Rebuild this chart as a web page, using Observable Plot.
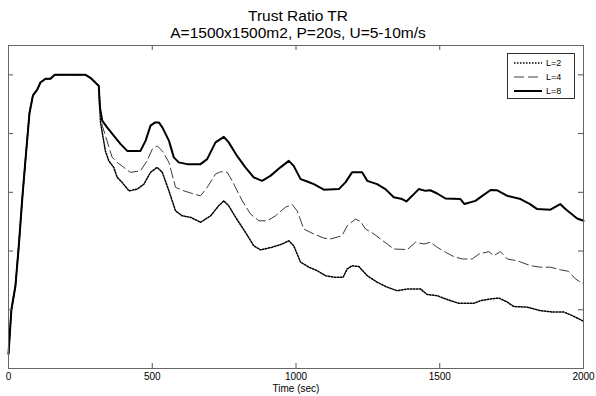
<!DOCTYPE html>
<html>
<head>
<meta charset="utf-8">
<script src="https://cdn.jsdelivr.net/npm/d3@7"></script>
<script src="https://cdn.jsdelivr.net/npm/@observablehq/plot@0.6"></script>
<style>
  html, body { margin: 0; padding: 0; background: #fff; }
  #wrap { position: relative; width: 596px; height: 396px; font-family: Arial, "Liberation Sans", sans-serif; }
  #title { height: 40px; text-align: center; color: #000; font-size: 15.5px; line-height: 17px; padding-top: 7px; box-sizing: border-box; white-space: nowrap; }
  #chart svg { background: transparent !important; display: block; }
  #legend { position: absolute; left: 507px; top: 53px; width: 68px; height: 46px; box-sizing: border-box;
            border: 1px solid #333; background: #fff; font-size: 9px; padding: 2px 0 0 6px; }
  .row { display: flex; align-items: center; height: 14px; }
  .row svg { margin-right: 4px; }
</style>
</head>
<body>
<div id="wrap">
  <div id="title"><div>Trust Ratio TR</div><div>A=1500x1500m2, P=20s, U=5-10m/s</div></div>
  <div id="chart"></div>
  <div id="legend"></div>
</div>
<script>
// Shared start (all three series coincide)
const commonT = [0, 10, 24, 36, 48, 59, 73, 85, 100, 111, 129, 146, 161, 268, 285, 300, 314];
const commonV = [0.05, 0.20, 0.28, 0.42, 0.58, 0.71, 0.87, 0.93, 0.95, 0.974, 0.987, 0.987, 1.0, 1.0, 0.99, 0.976, 0.962];

// L=2
const l2T = [320, 329, 337, 349, 366, 378, 395, 419, 448, 471, 494, 517, 535, 558, 581, 604, 633, 668, 703, 731, 749, 766, 790, 824, 853, 877, 917, 952, 975, 992, 1016, 1045, 1074, 1103, 1132, 1164, 1178, 1195, 1219, 1248, 1282, 1317, 1352, 1387, 1433, 1456, 1491, 1520, 1566, 1619, 1642, 1677, 1706, 1735, 1758, 1804, 1850, 1896, 1932, 1961, 1984, 2000];
const l2V = [0.838, 0.787, 0.741, 0.707, 0.685, 0.651, 0.634, 0.605, 0.611, 0.628, 0.668, 0.685, 0.668, 0.605, 0.537, 0.520, 0.515, 0.498, 0.520, 0.554, 0.571, 0.554, 0.515, 0.464, 0.418, 0.404, 0.413, 0.424, 0.435, 0.418, 0.362, 0.345, 0.333, 0.316, 0.311, 0.311, 0.339, 0.350, 0.347, 0.316, 0.294, 0.277, 0.265, 0.271, 0.271, 0.252, 0.248, 0.237, 0.222, 0.222, 0.231, 0.237, 0.240, 0.226, 0.211, 0.209, 0.197, 0.192, 0.192, 0.180, 0.169, 0.161];

// L=4
const l4T = [320, 326, 335, 349, 360, 378, 401, 424, 459, 482, 500, 517, 535, 558, 581, 610, 645, 668, 691, 720, 737, 761, 778, 813, 842, 871, 900, 929, 963, 987, 1004, 1027, 1062, 1097, 1120, 1160, 1178, 1207, 1224, 1242, 1271, 1294, 1317, 1340, 1387, 1416, 1445, 1468, 1491, 1520, 1549, 1579, 1613, 1636, 1671, 1688, 1711, 1735, 1769, 1816, 1850, 1885, 1920, 1948, 1972, 2000];
const l4V = [0.87, 0.827, 0.80, 0.755, 0.72, 0.702, 0.685, 0.668, 0.673, 0.707, 0.747, 0.758, 0.741, 0.702, 0.617, 0.605, 0.594, 0.588, 0.617, 0.662, 0.670, 0.668, 0.639, 0.571, 0.526, 0.503, 0.503, 0.520, 0.549, 0.558, 0.537, 0.475, 0.458, 0.444, 0.441, 0.452, 0.486, 0.509, 0.501, 0.475, 0.458, 0.441, 0.424, 0.407, 0.405, 0.430, 0.424, 0.430, 0.413, 0.396, 0.381, 0.373, 0.373, 0.390, 0.398, 0.384, 0.398, 0.373, 0.367, 0.350, 0.345, 0.345, 0.336, 0.331, 0.305, 0.288];

// L=8
const l8T = [318, 326, 343, 366, 390, 413, 459, 477, 494, 510, 523, 535, 558, 575, 592, 621, 668, 691, 720, 749, 766, 795, 824, 853, 882, 911, 946, 975, 992, 1016, 1039, 1062, 1097, 1149, 1172, 1195, 1230, 1248, 1282, 1311, 1340, 1369, 1384, 1404, 1427, 1450, 1467, 1491, 1520, 1572, 1586, 1624, 1648, 1677, 1700, 1735, 1781, 1814, 1839, 1885, 1919, 1937, 1978, 2000];
const l8V = [0.889, 0.844, 0.821, 0.793, 0.764, 0.741, 0.741, 0.776, 0.827, 0.838, 0.838, 0.821, 0.776, 0.719, 0.702, 0.696, 0.696, 0.713, 0.770, 0.789, 0.770, 0.724, 0.685, 0.651, 0.639, 0.656, 0.685, 0.707, 0.690, 0.645, 0.637, 0.628, 0.609, 0.611, 0.634, 0.668, 0.668, 0.639, 0.628, 0.611, 0.583, 0.577, 0.569, 0.588, 0.611, 0.605, 0.607, 0.596, 0.579, 0.577, 0.560, 0.571, 0.588, 0.608, 0.607, 0.588, 0.577, 0.560, 0.543, 0.541, 0.560, 0.543, 0.511, 0.503];

const seriesNames = ["L=2", "L=4", "L=8"];
const xTicks = [0, 500, 1000, 1500, 2000];
const yTicks = [0, 0.2, 0.4, 0.6, 0.8, 1.0];
const xLabel = "Time (sec)";

function build(T, V) {
  const pts = commonT.map((t, i) => ({t, v: commonV[i]}));
  T.forEach((t, i) => pts.push({t, v: V[i]}));
  return pts;
}
const d2 = build(l2T, l2V), d4 = build(l4T, l4V), d8 = build(l8T, l8V);

const styles = [
  {stroke: "#000", strokeWidth: 1.5, strokeDasharray: "1.5,1.5"},
  {stroke: "#3a3a3a", strokeWidth: 1, strokeDasharray: "10,4"},
  {stroke: "#000", strokeWidth: 2, strokeDasharray: null}
];

const W = 596, H = 356, mT = 5, mB = 28, mL = 8, mR = 13;
const frameW = W - mL - mR, frameH = H - mT - mB, tl = 5;

const chart = Plot.plot({
  width: W, height: H,
  marginTop: mT, marginBottom: mB, marginLeft: mL, marginRight: mR,
  style: {fontFamily: "Arial, 'Liberation Sans', sans-serif", fontSize: "10px", color: "#000", background: "transparent", overflow: "visible"},
  x: {domain: [0, 2000], ticks: xTicks, tickFormat: d => String(d), tickSize: 0, tickPadding: 4, label: null},
  y: {domain: [0, 1.1], axis: null},
  marks: [
    Plot.line(d2, {x: "t", y: "v", ...styles[0]}),
    Plot.line(d4, {x: "t", y: "v", ...styles[1]}),
    Plot.line(d8, {x: "t", y: "v", ...styles[2]}),
    Plot.tickX(xTicks.slice(1, -1), {x: d => d, insetTop: frameH - tl, stroke: "#555"}),
    Plot.tickX(xTicks.slice(1, -1), {x: d => d, insetBottom: frameH - tl, stroke: "#555"}),
    Plot.tickY(yTicks.slice(1), {y: d => d, insetRight: frameW - tl, stroke: "#555"}),
    Plot.tickY(yTicks.slice(1), {y: d => d, insetLeft: frameW - tl, stroke: "#555"}),
    Plot.frame({stroke: "#666"}),
    Plot.text([xLabel], {frameAnchor: "bottom", dy: 23.5, fontSize: 10, fill: "#000"})
  ]
});
document.getElementById("chart").appendChild(chart);

const legend = document.getElementById("legend");
seriesNames.forEach((name, i) => {
  const s = styles[i];
  const row = document.createElement("div");
  row.className = "row";
  row.innerHTML = `<svg width="28" height="6"><line x1="0" y1="3" x2="28" y2="3" stroke="${s.stroke}" stroke-width="${s.strokeWidth}" ${s.strokeDasharray ? `stroke-dasharray="${s.strokeDasharray}"` : ""}/></svg><span>${name}</span>`;
  legend.appendChild(row);
});
</script>
</body>
</html>
